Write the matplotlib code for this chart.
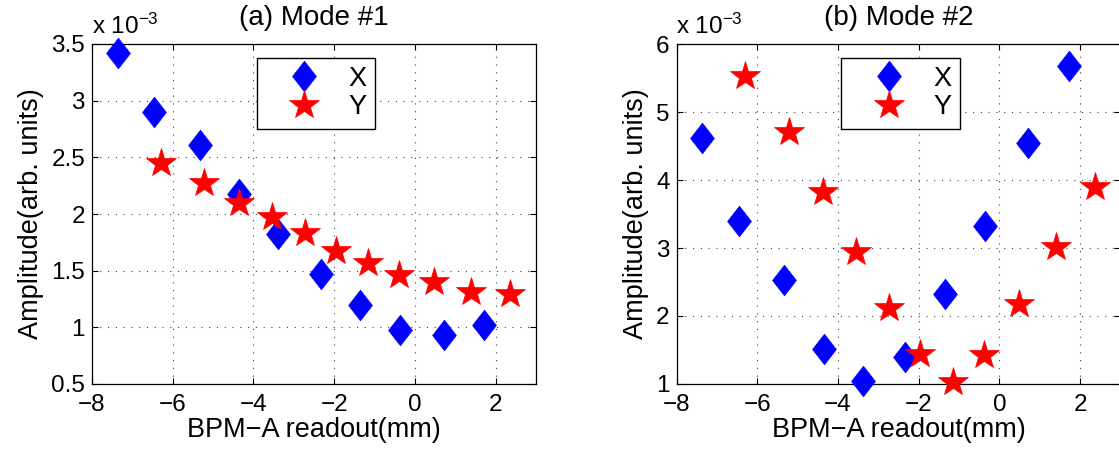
import matplotlib
matplotlib.use("Agg")
import matplotlib.pyplot as plt
from matplotlib.ticker import FuncFormatter

plt.rcParams['font.family'] = ['Liberation Sans', 'DejaVu Sans']
plt.rcParams['mathtext.fontset'] = 'custom'
plt.rcParams['mathtext.rm'] = 'Liberation Sans'
plt.rcParams['mathtext.it'] = 'Liberation Sans'

# BPM-A readout positions (mm)
x_pos_X = [-7.36, -6.46, -5.33, -4.35, -3.38, -2.33, -1.36, -0.36, 0.72, 1.72]
x_pos_Y = [-6.30, -5.22, -4.37, -3.55, -2.73, -1.96, -1.16, -0.39, 0.48, 1.39, 2.36]

# amplitudes, in units of 1e-3
mode1_X = [3.42, 2.90, 2.61, 2.18, 1.82, 1.47, 1.20, 0.98, 0.93, 1.02]
mode1_Y = [2.45, 2.27, 2.10, 1.97, 1.83, 1.67, 1.57, 1.46, 1.40, 1.31, 1.29]
mode2_X = [4.62, 3.40, 2.53, 1.51, 1.04, 1.40, 2.33, 3.33, 4.54, 5.68]
mode2_Y = [5.53, 4.70, 3.82, 2.94, 2.12, 1.44, 1.03, 1.43, 2.17, 3.01, 3.90]

titles = ['(a) Mode #1', '(b) Mode #2']
ylims = [(0.5, 3.5), (1, 6)]
yticks = [[0.5, 1, 1.5, 2, 2.5, 3, 3.5], [1, 2, 3, 4, 5, 6]]
xticks = [-8, -6, -4, -2, 0, 2]

diamond = [(0, 1), (0.78, 0), (0, -1), (-0.78, 0), (0, 1)]

fig = plt.figure(figsize=(11.19, 4.59), dpi=100)
W, H = 1119, 459
ax1 = fig.add_axes([92 / W, (H - 384) / H, 444 / W, 340 / H])
ax2 = fig.add_axes([676.5 / W, (H - 384) / H, 444 / W, 340 / H])

fmt = FuncFormatter(lambda v, p: ('%g' % v).replace('-', '\u2212'))

for ax, xs, ys, t, yl, yt in zip([ax1, ax2], [mode1_X, mode2_X], [mode1_Y, mode2_Y],
                                  titles, ylims, yticks):
    ax.plot(x_pos_X, xs, linestyle='none', marker=diamond, ms=22, color='#0000ff',
            mec='#0000ff', mew=0.5, label='X', clip_on=False, zorder=3)
    ax.plot(x_pos_Y, ys, linestyle='none', marker='*', ms=22, color='#ff0000',
            mec='#ff0000', mew=0.5, label='Y', clip_on=False, zorder=3)
    ax.set_xlim(-8, 3)
    ax.set_ylim(*yl)
    ax.set_xticks(xticks)
    ax.set_yticks(yt)
    ax.xaxis.set_major_formatter(fmt)
    ax.yaxis.set_major_formatter(fmt)
    ax.grid(True, color='0.25', linestyle=(0, (1, 6)), linewidth=0.8)
    ax.tick_params(direction='in', length=4, width=0.8, top=True, right=True,
                   labelsize=17.5)
    ax.tick_params(axis='x', pad=7)
    ax.tick_params(axis='y', pad=5)
    for s in ax.spines.values():
        s.set_linewidth(0.9)
    ax.set_title(t, fontsize=20, pad=14)
    ax.set_xlabel('BPM\u2212A readout(mm)', fontsize=19.5, labelpad=1)
    ax.set_ylabel('Amplitude(arb. units)', fontsize=19.5, labelpad=5)
    ax.text(0, 1.029, r'x 10$^{-3}$', transform=ax.transAxes,
            fontsize=17.5, ha='left', va='baseline')
    leg = ax.legend(loc='upper left', bbox_to_anchor=(0.371, 0.960), fontsize=19.5,
                    numpoints=1, borderpad=0.3, handlelength=2.9, handletextpad=0.2,
                    labelspacing=0.1, fancybox=False, framealpha=1,
                    edgecolor='black', borderaxespad=0)
    leg.get_frame().set_linewidth(1.0)

fig.savefig('out.png', dpi=100)
